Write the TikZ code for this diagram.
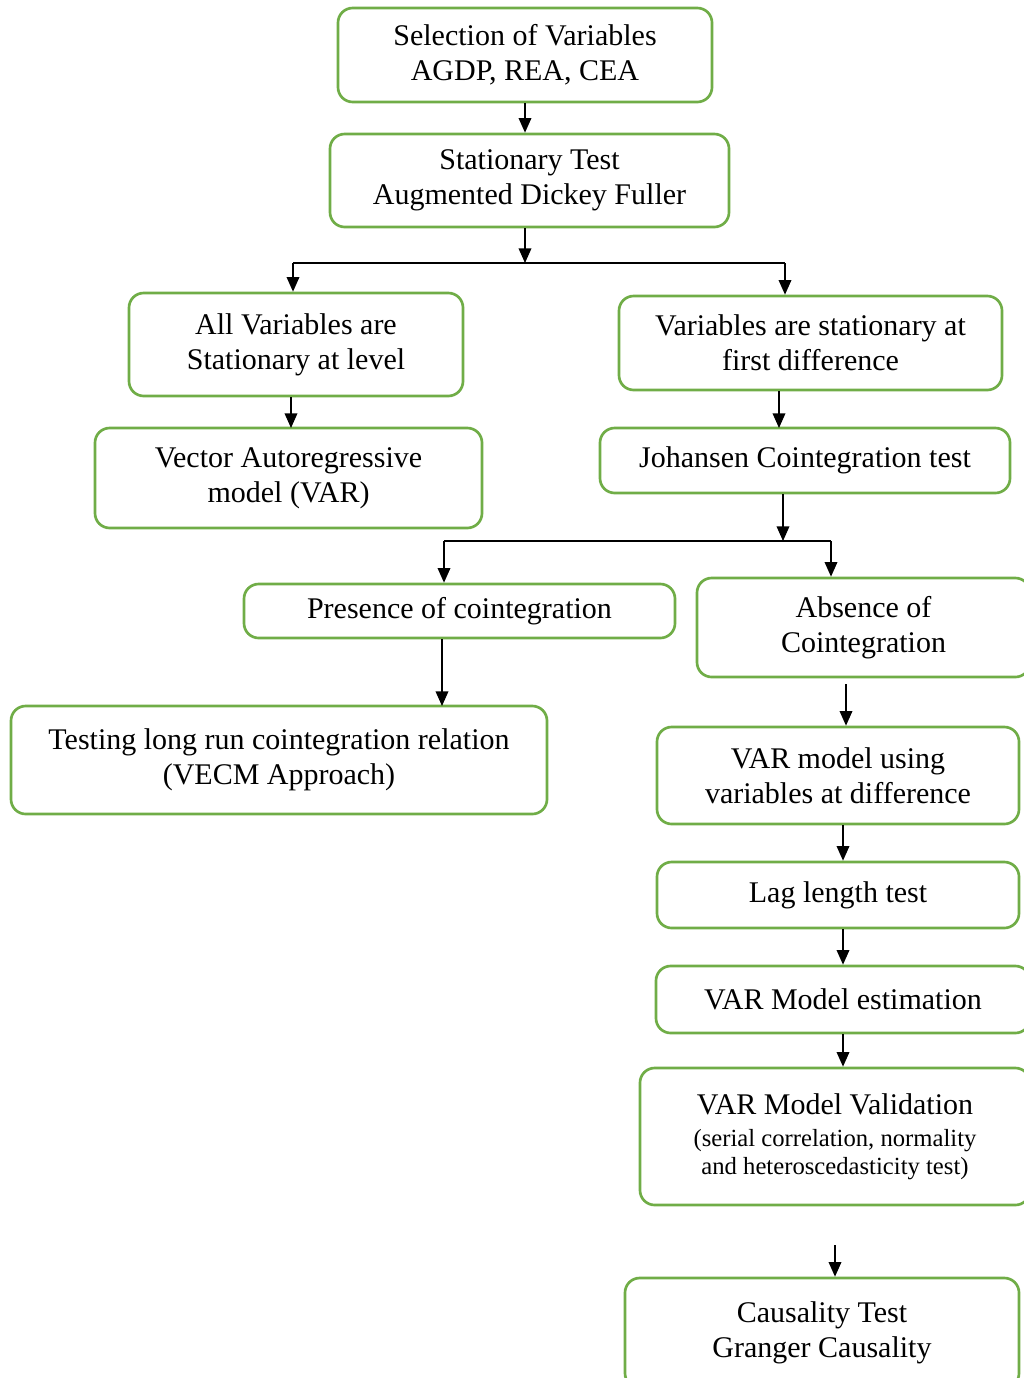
\documentclass[tikz,border=0pt]{standalone}
\usepackage{fontspec}
\setmainfont{Liberation Serif}
\usepackage{tikz}
\usetikzlibrary{arrows.meta}
\definecolor{boxgreen}{RGB}{112,173,71}

\begin{document}
\begin{tikzpicture}[x=0.75pt,y=-0.75pt,
  box/.style={draw=boxgreen,line width=2pt,rounded corners=11pt,align=center,inner sep=0pt,font=\fontsize{22.5}{26.5}\selectfont},
  arr/.style={line width=1.1pt,-{Triangle[width=9.5pt,length=11pt]}},
  bar/.style={line width=1.5pt}]
\useasboundingbox (0,0) rectangle (1024,1378);
% boxes
\node[box,minimum width=280.5pt,minimum height=70.5pt] (select) at (525,55) {Selection of Variables\\AGDP, REA, CEA};
\node[box,minimum width=299.25pt,minimum height=69.75pt] (station) at (529.5,180.5) {Stationary Test\\Augmented Dickey Fuller};
\node[box,minimum width=250.5pt,minimum height=77.25pt] (level) at (296,344.5) {All Variables are\\Stationary at level};
\node[box,minimum width=287.25pt,minimum height=70.5pt] (firstdiff) at (810.5,343) {Variables are stationary at\\first difference};
\node[box,minimum width=290.25pt,minimum height=75pt] (var) at (288.5,478) {Vector Autoregressive\\model (VAR)};
\node[box,minimum width=307.5pt,minimum height=48.75pt] (johansen) at (805,460.5) {Johansen Cointegration test};
\node[box,minimum width=323.25pt,minimum height=40.5pt] (presence) at (459.5,611) {Presence of cointegration};
\node[box,minimum width=249.75pt,minimum height=74.25pt] (absence) at (863.5,627.5) {Absence of\\Cointegration};
\node[box,minimum width=402pt,minimum height=81pt] (vecm) at (279,760) {Testing long run cointegration relation\\(VECM Approach)};
\node[box,minimum width=271.5pt,minimum height=72.75pt] (vardiff) at (838,775.5) {VAR model using\\variables at difference};
\node[box,minimum width=271.5pt,minimum height=49.5pt] (lag) at (838,895) {Lag length test};
\node[box,minimum width=280.5pt,minimum height=50.25pt] (estim) at (843,999.5) {VAR Model estimation};
\node[box,minimum width=292.5pt,minimum height=102.75pt] (valid) at (835,1136.5) {VAR Model Validation\\[-2.5pt]
  {\fontsize{18.5}{21}\selectfont (serial correlation, normality}\\[-5.5pt]
  {\fontsize{18.5}{21}\selectfont and heteroscedasticity test)}};
\node[box,minimum width=295.5pt,minimum height=82.5pt] (causal) at (822,1333) {Causality Test\\Granger Causality};
% split points
\coordinate (s1) at (525,263);
\coordinate (s1l) at (293,263);
\coordinate (s1r) at (785,263);
\coordinate (s2) at (783,541);
\coordinate (s2l) at (444,541);
\coordinate (s2r) at (831,541);
% connectors
\draw[arr] (select) -- (select |- station.north);
\draw[arr] (station.south -| s1) -- (s1);
\draw[bar] (s1l) -- (s1r);
\draw[arr] (s1l) -- (s1l |- level.north);
\draw[arr] (s1r) -- (s1r |- firstdiff.north);
\draw[arr] (level.south -| 291,0) -- (291,428);
\draw[arr] (firstdiff.south -| 779,0) -- (779,428);
\draw[arr] (johansen.south -| s2) -- (s2);
\draw[bar] (s2l) -- (s2r);
\draw[arr] (s2l) -- (s2l |- presence.north);
\draw[arr] (s2r) -- (s2r |- absence.north);
\draw[arr] (presence.south -| 442,0) -- (442,706);
\draw[arr] (846,684) -- (vardiff.north -| 846,0);
\draw[arr] (vardiff.south -| 843,0) -- (lag.north -| 843,0);
\draw[arr] (lag.south -| 843,0) -- (estim.north -| 843,0);
\draw[arr] (estim.south -| 843,0) -- (valid.north -| 843,0);
\draw[arr] (835,1245) -- (causal.north -| 835,0);
\end{tikzpicture}
\end{document}
